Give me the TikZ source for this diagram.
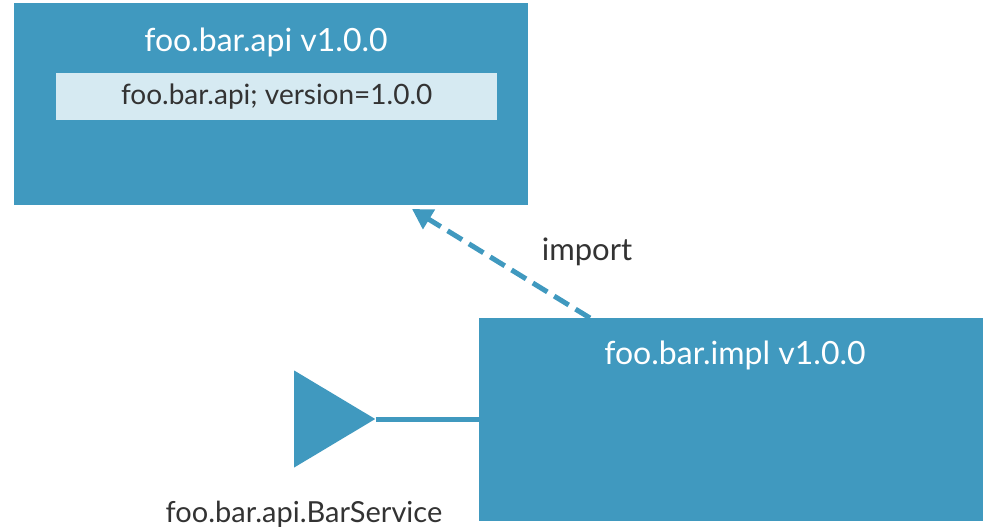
\documentclass[tikz,border=0pt]{standalone}
\usepackage{fontspec}
\setmainfont{Lato}
\usetikzlibrary{shapes.geometric,arrows.meta}
\definecolor{boxblue}{RGB}{64,153,191}
\definecolor{lightblue}{RGB}{214,234,242}
\definecolor{darktext}{RGB}{51,51,51}
\tikzset{
  bundle/.style={fill=boxblue,draw=none,inner sep=0pt,anchor=north west},
  title/.style={text=white,font=\fontsize{32}{36}\selectfont,inner sep=0pt},
  pkg/.style={fill=lightblue,draw=none,inner sep=0pt,anchor=north west,text=darktext,font=\fontsize{28}{32}\selectfont},
  lbl/.style={text=darktext,font=\fontsize{29}{33}\selectfont,inner sep=0pt},
  conn/.style={draw=boxblue,line width=5pt},
}
\begin{document}
\begin{tikzpicture}[x=1pt,y=-1pt]
\useasboundingbox (0,0) rectangle (983,531);
\node[bundle,minimum width=514pt,minimum height=202pt] (api) at (14,3) {};
\node[title] (apititle) at (266,42) {foo.bar.api v1.0.0};
\node[pkg,minimum width=441pt,minimum height=47pt] (pkgbox) at (56,73) {foo.bar.api; version=1.0.0};
\node[bundle,minimum width=504pt,minimum height=203pt] (impl) at (479,318) {};
\node[title] (impltitle) at (735,355) {foo.bar.impl v1.0.0};
\node[isosceles triangle,isosceles triangle stretches,shape border rotate=0,fill=boxblue,draw=none,inner sep=0pt,minimum width=97pt,minimum height=81pt,anchor=lower side] (svc) at (294,419) {};
\node[lbl] (svclabel) at (304,514) {foo.bar.api.BarService};
\node[lbl,font=\fontsize{31}{35}\selectfont] (implabel) at (587,252) {import};
\coordinate (impsrc) at (590,318);
\coordinate (imptgt) at (412,209);
\draw[conn] (svc.apex) -- (impl.west |- svc.apex);
\draw[conn,dash pattern=on 17pt off 8pt,-{Triangle[length=20pt,width=22pt]}] (impsrc) -- (imptgt);
\end{tikzpicture}
\end{document}
